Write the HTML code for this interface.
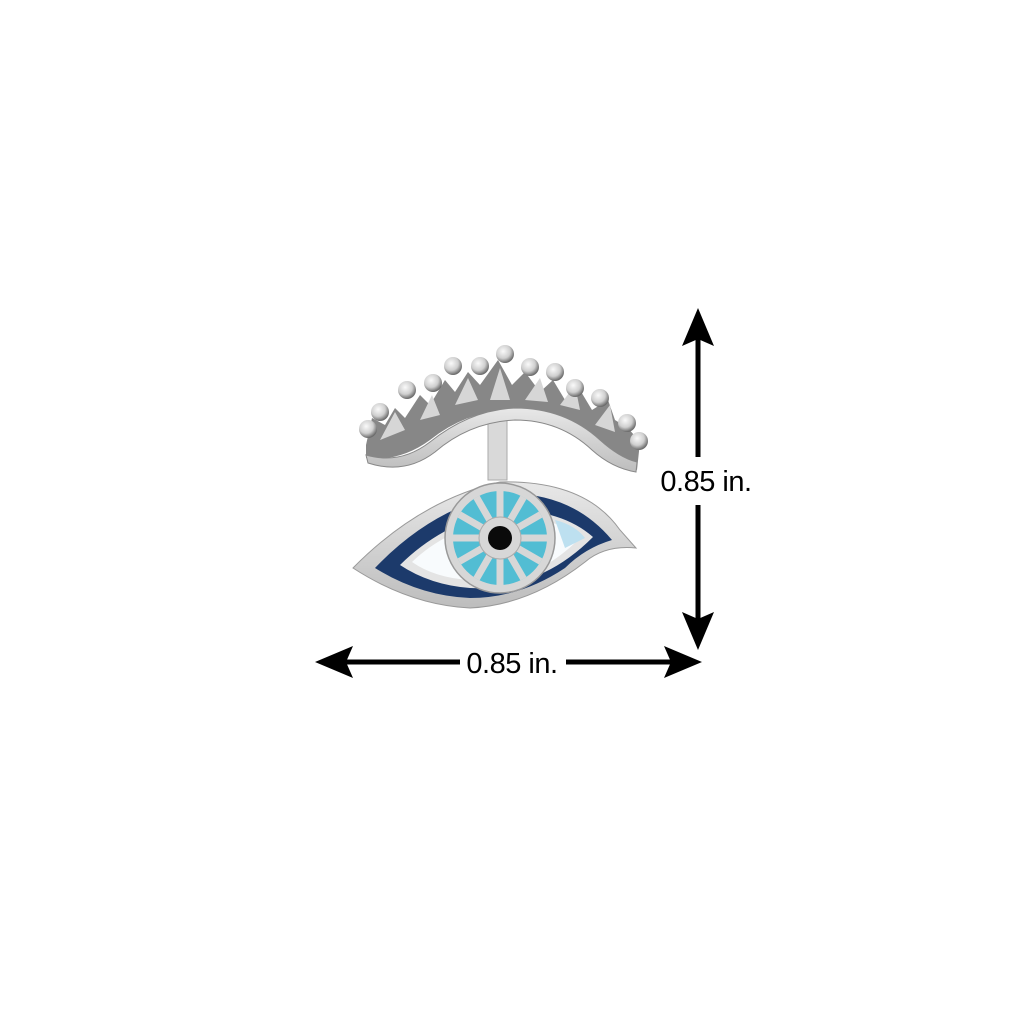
<!DOCTYPE html>
<html><head><meta charset="utf-8"><style>
html,body{margin:0;padding:0;background:#fff;}
svg{display:block}
</style></head><body>
<svg width="1024" height="1024" viewBox="0 0 1024 1024" xmlns="http://www.w3.org/2000/svg">
<defs>
<radialGradient id="ball" cx="40%" cy="35%" r="65%"><stop offset="0" stop-color="#fafafa"/><stop offset="0.6" stop-color="#cfcfcf"/><stop offset="1" stop-color="#6a6a6a"/></radialGradient>
<linearGradient id="silver" x1="0" y1="0" x2="0" y2="1"><stop offset="0" stop-color="#e8e8e8"/><stop offset="1" stop-color="#bdbdbd"/></linearGradient>
</defs>
<rect x="488" y="408" width="19" height="72" fill="#d9d9d9" stroke="#aaa" stroke-width="1"/>
<path d="M366 445 L372 418 L385 425 L395 408 L405 418 L420 395 L430 405 L445 380 L455 392 L468 372 L480 385 L498 360 L512 385 L525 372 L540 392 L553 380 L565 400 L580 390 L592 410 L608 400 L615 420 L628 428 L640 442 L637 470 L600 445 Q560 410 520 410 Q470 408 430 440 Q400 462 366 458 Z" fill="#878787"/>
<path d="M380 440 L395 412 L405 430 Z M420 420 L432 395 L440 415 Z M455 405 L468 378 L478 400 Z M490 400 L500 368 L510 400 Z M525 400 L540 378 L548 402 Z M560 405 L575 385 L580 410 Z M595 425 L610 405 L615 432 Z" fill="#d6d6d6"/>
<path d="M366 455 Q400 465 430 442 Q470 410 515 408 Q565 408 600 440 Q620 458 637 462 L636 472 Q612 468 592 450 Q560 420 515 420 Q470 422 435 452 Q405 475 368 463 Z" fill="url(#silver)" stroke="#888" stroke-width="1"/>
<g fill="url(#ball)">
<circle cx="368" cy="429" r="9"/><circle cx="380" cy="412" r="9"/><circle cx="407" cy="390" r="9"/>
<circle cx="433" cy="383" r="9"/><circle cx="453" cy="366" r="9"/><circle cx="480" cy="366" r="9"/>
<circle cx="505" cy="354" r="9"/><circle cx="530" cy="367" r="9"/><circle cx="555" cy="372" r="9"/>
<circle cx="575" cy="388" r="9"/><circle cx="600" cy="398" r="9"/><circle cx="627" cy="423" r="9"/>
<circle cx="639" cy="441" r="9"/>
</g>
<path d="M353 568 Q420 500 500 482 Q585 480 620 530 L636 548 Q605 545 585 562 Q530 605 470 608 Q410 605 353 568 Z" fill="url(#silver)" stroke="#999" stroke-width="1"/>
<path d="M375 568 Q430 510 500 494 Q570 490 612 540 Q585 548 565 568 Q520 598 470 598 Q420 596 375 568 Z" fill="#1c3a6b"/>
<path d="M400 565 Q440 525 500 510 Q560 508 593 537 Q570 560 545 572 Q510 590 470 588 Q430 585 400 565 Z" fill="#e4e4e4"/>
<path d="M412 562 Q445 530 500 518 Q555 515 580 538 Q560 558 540 568 Q505 582 470 580 Q435 578 412 562 Z" fill="#f8fbfd"/>
<path d="M555 520 Q575 525 585 538 L565 548 Z" fill="#bde0f0"/>
<circle cx="500" cy="538" r="55" fill="#d7d7d7" stroke="#999" stroke-width="1.5"/>
<circle cx="500" cy="538" r="47" fill="#52bdd3"/>
<g stroke="#d7d7d7" stroke-width="7">
<line x1="500" y1="491" x2="500" y2="585"/>
<line x1="453" y1="538" x2="547" y2="538"/>
<line x1="476.5" y1="497.3" x2="523.5" y2="578.7"/>
<line x1="523.5" y1="497.3" x2="476.5" y2="578.7"/>
<line x1="459.3" y1="514.5" x2="540.7" y2="561.5"/>
<line x1="459.3" y1="561.5" x2="540.7" y2="514.5"/>
</g>
<circle cx="500" cy="538" r="21" fill="#d7d7d7" stroke="#aaa" stroke-width="1"/>
<circle cx="500" cy="538" r="12" fill="#0a0a0a"/>
<g fill="#000">
<rect x="695.5" y="335" width="5" height="122"/>
<rect x="695.5" y="505" width="5" height="115"/>
<path d="M698 308 L714 346 L698 339 L682 346 Z"/>
<path d="M698 650 L714 612 L698 619 L682 612 Z"/>
<rect x="340" y="659.5" width="120" height="5"/>
<rect x="566" y="659.5" width="110" height="5"/>
<path d="M315 662 L353 646 L346 662 L353 678 Z"/>
<path d="M702 662 L664 646 L671 662 L664 678 Z"/>
</g>
<g font-family="Liberation Sans, sans-serif" font-size="29" fill="#000" text-anchor="middle" letter-spacing="-0.5">
<text x="706" y="491">0.85 in.</text>
<text x="512" y="673">0.85 in.</text>
</g>
</svg>
</body></html>
